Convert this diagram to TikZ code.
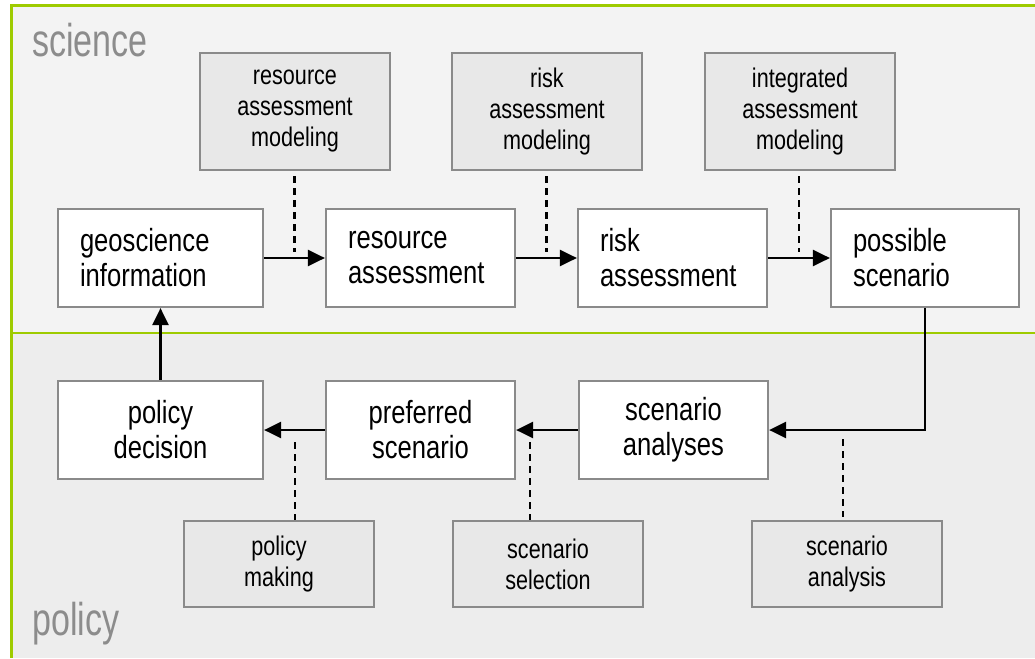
\documentclass[tikz,border=0pt]{standalone}
\usepackage{fontspec}
\setmainfont{Liberation Sans}[FakeStretch=0.8]
\newfontfamily\lblfont{Liberation Sans}[FakeStretch=0.74]
\usetikzlibrary{arrows.meta}
\definecolor{frameGreen}{HTML}{9ECB00}
\definecolor{sciBg}{HTML}{F3F3F3}
\definecolor{polBg}{HTML}{EDEDED}
\definecolor{boxEdge}{HTML}{8A8A8A}
\definecolor{toolFill}{HTML}{E8E8E8}
\definecolor{lblGray}{HTML}{8C8C8C}
\tikzset{
  procbase/.style={draw=boxEdge, line width=2.2pt, fill=white, minimum height=98pt,
    inner ysep=0pt, font=\fontsize{32}{35}\selectfont},
  procL/.style={procbase, inner xsep=22pt, align=left, text width=#1},
  procC/.style={procbase, inner xsep=0pt, align=center, minimum width=#1},
  toolbox/.style={draw=boxEdge, line width=2.2pt, fill=toolFill, minimum width=190pt,
    minimum height=#1, inner sep=0pt, align=center, font=\fontsize{27}{31}\selectfont},
  flow/.style={line width=2.6pt, -{Triangle[length=17pt,width=16pt]}},
  link/.style={line width=2.6pt, dash pattern=on 7pt off 5pt},
  zonelabel/.style={anchor=base west, inner sep=0pt, text=lblGray, font=\lblfont\fontsize{46}{50}\selectfont}
}
\begin{document}
\begin{tikzpicture}[x=1pt,y=-1pt]
\useasboundingbox (0,0) rectangle (1035,658);
% zones
\fill[sciBg] (12,6) rectangle (1035,333);
\fill[polBg] (12,333) rectangle (1035,658);
\draw[frameGreen, line width=2.5pt] (11.5,658) -- (11.5,5.5) -- (1035,5.5);
\draw[frameGreen, line width=2.5pt] (11.5,333) -- (1035,333);
\node[zonelabel] (sci) at (32,57) {science};
\node[zonelabel] (pol) at (32,635) {policy};

% process boxes, top row
\node[procL=161pt] (geo)  at (160.5,258) {geoscience\\information};
\node[procL=145pt] (res)  at (420.5,258) {resource\\assessment};
\node[procL=145pt] (risk) at (672.5,258) {risk\\assessment};
\node[procL=144pt] (poss) at (925,258)   {possible\\scenario};
% bottom row
\node[procC=205pt] (pold) at (160.5,430) {policy\\decision};
\node[procC=189pt] (pref) at (420.5,430) {preferred\\scenario};
\node[procC=189pt] (scan) at (673.5,430) {scenario\\analyses};

% tool boxes
\node[toolbox=117pt] (ram) at (295,111.5) {resource\\assessment\\modeling};
\node[toolbox=117pt] (rkm) at (547,111.5) {risk\\assessment\\modeling};
\node[toolbox=117pt] (iam) at (800,111.5) {integrated\\assessment\\modeling};
\node[toolbox=86pt] (pmk) at (279,564) {policy\\making};
\node[toolbox=86pt] (ssl) at (548,564) {scenario\\selection};
\node[toolbox=86pt] (san) at (847,564) {scenario\\analysis};

% flow arrows
\draw[flow] (geo.east) -- (res.west);
\draw[flow] (res.east) -- (risk.west);
\draw[flow] (risk.east) -- (poss.west);
\draw[flow] (poss.south) |- (scan.east);
\draw[flow] (scan.west) -- (pref.east);
\draw[flow] (pref.west) -- (pold.east);
\draw[flow] (pold.north) -- (geo.south);

% dashed links
\coordinate (d1a) at (294.5,176); \coordinate (d1b) at (294.5,252);
\coordinate (d2a) at (546.5,176); \coordinate (d2b) at (546.5,252);
\coordinate (d3a) at (799,176);   \coordinate (d3b) at (799,252);
\coordinate (d4a) at (295,442);   \coordinate (d4b) at (295,520);
\coordinate (d5a) at (530,442);   \coordinate (d5b) at (530,520);
\coordinate (d6a) at (843,439);   \coordinate (d6b) at (843,517);
\draw[link] (d1a) -- (d1b);
\draw[link] (d2a) -- (d2b);
\draw[link] (d3a) -- (d3b);
\draw[link] (d4a) -- (d4b);
\draw[link] (d5a) -- (d5b);
\draw[link] (d6a) -- (d6b);
\end{tikzpicture}
\end{document}
